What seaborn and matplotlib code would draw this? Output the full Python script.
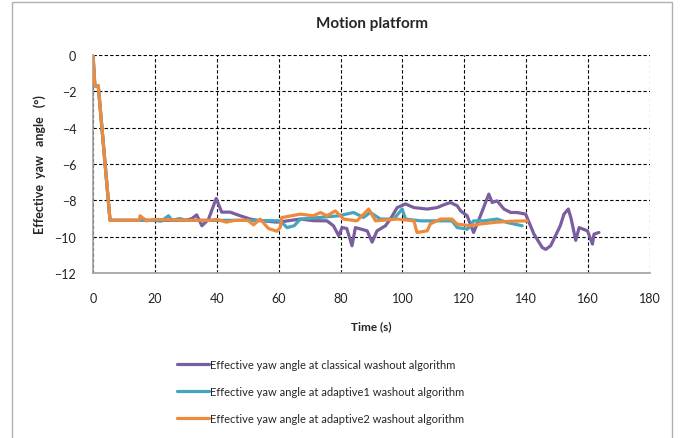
import pandas as pd
import numpy as np
import matplotlib
matplotlib.use("Agg")
import matplotlib.pyplot as plt
import seaborn as sns
from matplotlib.patches import Rectangle

# datos
t_classical = [0, 0.6, 1.7, 5.5, 30, 32, 33.5, 35.2, 37.3, 39.8, 41.6, 44.3, 47.6, 50.8, 53, 59.4,
               62, 67, 71.2, 75.6, 77.7, 79.4, 80.5, 82, 83.7, 84.8, 88.6, 90.2, 91.8, 94.5,
               96.1, 98.3, 101, 103.7, 108, 111.2, 113.3, 115.5, 117.7, 118.8, 120.9, 123,
               125.2, 127.9, 129, 130.6, 132.8, 135, 137.1, 139.8, 142.5, 145.2, 146.3, 147.9,
               151, 152.2, 153.6, 154.5, 156, 157.1, 159.8, 161.4, 161.9, 163.5]
v_classical = [0, -1.7, -1.7, -9.1, -9.1, -9.0, -8.8, -9.4, -9.05, -7.9, -8.65, -8.65, -8.85, -9.03,
               -9.1, -9.2, -9.15, -9.03, -9.12, -9.13, -9.4, -9.95, -9.5, -9.55, -10.5, -9.5,
               -9.68, -10.3, -9.68, -9.4, -9.03, -8.4, -8.2, -8.4, -8.48, -8.4, -8.25, -8.12,
               -8.3, -8.58, -8.85, -9.77, -8.85, -7.66, -8.12, -8.03, -8.48, -8.67, -8.67,
               -8.76, -9.86, -10.6, -10.7, -10.5, -9.4, -8.76, -8.48, -9.0, -10.2, -9.5,
               -9.68, -10.41, -9.86, -9.77]

t_adaptive1 = [0, 0.6, 1.7, 5.5, 20, 22, 24.4, 25.5, 28, 30, 40, 50, 60.5, 62.7, 65, 67, 73.5, 79.4,
               84.2, 87.4, 89.6, 92.9, 97.2, 99.9, 101, 105.8, 112.3, 116, 117.7, 121, 123,
               126.3, 130.6, 133.8, 138.7]
v_adaptive1 = [0, -1.7, -1.7, -9.1, -9.1, -9.15, -8.85, -9.1, -9.0, -9.1, -9.1, -9.1, -9.13, -9.5,
               -9.4, -9.03, -8.94, -8.85, -8.67, -8.94, -8.67, -9.03, -9.03, -8.48, -9.03,
               -9.13, -9.13, -9.13, -9.5, -9.59, -9.13, -9.13, -9.03, -9.22, -9.4]

t_adaptive2 = [0, 0.6, 1.7, 5.5, 15, 15.2, 17.3, 20, 30, 38, 40, 43, 46, 50, 51.9, 54, 56.7, 59.4,
               60.5, 61, 67, 71.2, 73.5, 75.6, 78.3, 81, 85.3, 89.1, 91.3, 98.3, 103.7, 104.7,
               108, 109, 112.3, 116, 117.7, 122, 125.2, 129.5, 135, 140.3]
v_adaptive2 = [0, -1.7, -1.7, -9.1, -9.1, -8.85, -9.13, -9.05, -9.1, -9.1, -9.05, -9.2, -9.1, -9.1,
               -9.35, -9.03, -9.55, -9.7, -9.5, -8.95, -8.76, -8.85, -8.67, -8.85, -8.58,
               -9.03, -9.13, -8.48, -9.13, -9.03, -9.13, -9.77, -9.68, -9.3, -9.03, -9.03,
               -9.31, -9.4, -9.3, -9.22, -9.15, -9.13]

etiquetas = ["Effective yaw angle at classical washout algorithm",
             "Effective yaw angle at adaptive1 washout algorithm",
             "Effective yaw angle at adaptive2 washout algorithm"]
colores = ["#7B5EA0", "#43A5BE", "#EE8A3C"]

df = pd.concat([
    pd.DataFrame({"t": t_classical, "v": v_classical, "serie": etiquetas[0]}),
    pd.DataFrame({"t": t_adaptive1, "v": v_adaptive1, "serie": etiquetas[1]}),
    pd.DataFrame({"t": t_adaptive2, "v": v_adaptive2, "serie": etiquetas[2]}),
])

sns.set_style("white")
plt.rcParams['font.family'] = ['Lato', 'DejaVu Sans']

fig = plt.figure(figsize=(6.83, 4.39), dpi=100)
ax = fig.add_axes([93/683, 1-274/439, (650-93)/683, (274-56)/439])

sns.lineplot(data=df, x="t", y="v", hue="serie", palette=colores, sort=False,
             estimator=None, linewidth=2.3, ax=ax, zorder=3)

ax.set_xlim(0, 180)
ax.set_ylim(-12, 0)
ax.set_xticks(range(0, 181, 20))
ax.set_yticks(range(-12, 1, 2))
ax.grid(True, color="black", linestyle=(0, (3, 2)), linewidth=0.8)
ax.set_axisbelow(True)

for s in ["top", "right"]:
    ax.spines[s].set_visible(False)
for s in ["left", "bottom"]:
    ax.spines[s].set_color("#A0A0A0")
    ax.spines[s].set_linewidth(1.2)
ax.tick_params(axis="both", direction="out", length=4, color="#A0A0A0",
               labelsize=9, labelcolor="#222222", pad=8)
ax.tick_params(axis="x", pad=10)

ax.set_title("Motion platform", fontsize=11, fontweight="bold", pad=20)
ax.set_xlabel("Time (s)", fontsize=8.5, fontweight="bold", labelpad=11)
ax.set_ylabel("Effective  yaw   angle   (°)", fontsize=9, fontweight="bold", labelpad=6)

ax.legend(loc="upper left", bbox_to_anchor=(167/683, 1-350/439), bbox_transform=fig.transFigure,
          frameon=False, fontsize=8, handlelength=2.9, handletextpad=0.05, labelspacing=1.45)

fig.patches.append(Rectangle((12/683, -0.01), (672-12)/683, 1-3/439+0.01, transform=fig.transFigure,
                             fill=False, edgecolor="#B0B0B0", linewidth=1))

fig.savefig("out.png", dpi=100)
